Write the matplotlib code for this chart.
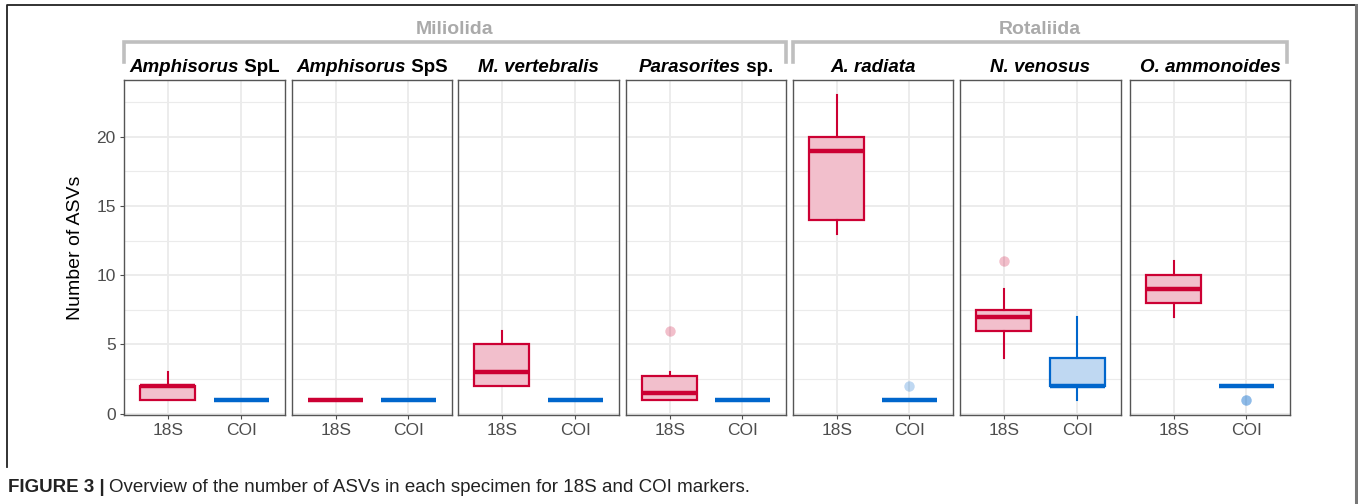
import matplotlib
matplotlib.use("Agg")
import matplotlib.pyplot as plt
from matplotlib.lines import Line2D

plt.rcParams['font.family'] = ['Liberation Sans', 'DejaVu Sans']

########################################################################################################################
## data (boxplot statistics per specimen)
########################################################################################################################
species_it = ["Amphisorus", "Amphisorus", "M. vertebralis", "Parasorites", "A. radiata", "N. venosus", "O. ammonoides"]
species_rest = [" SpL", " SpS", "", " sp.", "", "", ""]
orders = ["Miliolida", "Rotaliida"]
markers = ["18S", "COI"]

q1_18s = [1, 1, 2, 1, 14, 6, 8]
med_18s = [2, 1, 3, 1.5, 19, 7, 9]
q3_18s = [2, 1, 5, 2.75, 20, 7.5, 10]
lo_18s = [1, 1, 2, 1, 13, 4, 7]
hi_18s = [3, 1, 6, 3, 23, 9, 11]
out_18s = [[], [], [], [6], [], [11], []]

q1_coi = [1, 1, 1, 1, 1, 2, 2]
med_coi = [1, 1, 1, 1, 1, 2, 2]
q3_coi = [1, 1, 1, 1, 1, 4, 2]
lo_coi = [1, 1, 1, 1, 1, 1, 2]
hi_coi = [1, 1, 1, 1, 1, 7, 2]
out_coi = [[], [], [], [], [2], [], [1, 1]]

########################################################################################################################
## layout (pixels)
########################################################################################################################
W, H = 1358, 504
panel_x = [(124, 285), (292, 452), (458, 619), (626, 786), (793, 953), (960, 1121), (1130, 1290)]
panel_top, panel_bot = 80, 415

red, red_fill = '#CC0033', '#F2BFCC'
blue, blue_fill = '#0066CC', '#BFD8F2'
grid_c = '#EBEBEB'

fig = plt.figure(figsize=(W / 100, H / 100), dpi=100)


def fx(px):
    return px / W


def fy(py):
    return 1 - py / H


def stats(i, q1, med, q3, lo, hi, out):
    return dict(q1=q1[i], med=med[i], q3=q3[i], whislo=lo[i], whishi=hi[i], fliers=out[i])


axes = []
for i, (x0, x1) in enumerate(panel_x):
    ax = fig.add_axes([fx(x0), fy(panel_bot), fx(x1) - fx(x0), fy(panel_top) - fy(panel_bot)])
    axes.append(ax)
    for col, fill, pos, s in [
        (red, red_fill, 1, stats(i, q1_18s, med_18s, q3_18s, lo_18s, hi_18s, out_18s)),
        (blue, blue_fill, 2, stats(i, q1_coi, med_coi, q3_coi, lo_coi, hi_coi, out_coi)),
    ]:
        ax.bxp([s], positions=[pos], widths=0.75, patch_artist=True, showcaps=False,
               boxprops=dict(facecolor=fill, edgecolor=col, linewidth=1.6),
               medianprops=dict(color=col, linewidth=3.2, solid_capstyle='butt'),
               whiskerprops=dict(color=col, linewidth=1.5),
               flierprops=dict(marker='o', markerfacecolor=col, markeredgecolor='none',
                               markersize=7.5, alpha=0.25),
               zorder=3)
    ax.set_xlim(0.4, 2.6)
    ax.set_ylim(-0.1, 24.1)
    ax.set_xticks([1, 2])
    ax.set_xticklabels(markers)
    ax.set_yticks([0, 5, 10, 15, 20])
    ax.set_yticks([2.5, 7.5, 12.5, 17.5, 22.5], minor=True)
    ax.grid(True, which='major', color=grid_c, lw=1.3, zorder=0)
    ax.grid(True, which='minor', axis='y', color=grid_c, lw=0.8, zorder=0)
    ax.set_axisbelow(True)
    ax.tick_params(axis='both', which='major', colors='#4D4D4D', labelsize=12.5, length=3, width=0.8,
                   labelcolor='#4D4D4D', pad=3)
    ax.tick_params(axis='y', which='minor', length=0)
    for sp in ax.spines.values():
        sp.set_color('#555555')
        sp.set_linewidth(1.0)
    if i > 0:
        ax.tick_params(axis='y', which='both', left=False, labelleft=False)

axes[0].set_ylabel('Number of ASVs', fontsize=14, labelpad=9)

########################################################################################################################
## strip labels (italic genus + plain suffix, all bold)
########################################################################################################################
fig.canvas.draw()
rend = fig.canvas.get_renderer()
for i, (x0, x1) in enumerate(panel_x):
    t1 = fig.text(0, fy(68), species_it[i], fontsize=13.5, fontweight='bold', style='italic',
                  ha='left', va='center')
    t2 = fig.text(0, fy(68), species_rest[i], fontsize=13.5, fontweight='bold', ha='left', va='center')
    w1 = t1.get_window_extent(rend).width if species_it[i] else 0
    w2 = t2.get_window_extent(rend).width if species_rest[i] else 0
    start = (x0 + x1) / 2 - (w1 + w2) / 2
    t1.set_x(fx(start))
    t2.set_x(fx(start + w1))

########################################################################################################################
## order brackets
########################################################################################################################
br_c = '#BFBFBF'
bracket_x = [(124, 786), (793, 1287)]
for name, (bx0, bx1) in zip(orders, bracket_x):
    fig.add_artist(Line2D([fx(bx0), fx(bx0), fx(bx1), fx(bx1)], [fy(62), fy(42), fy(42), fy(62)],
                          color=br_c, lw=2.6, solid_joinstyle='miter'))
    fig.text(fx((bx0 + bx1) / 2), fy(30), name, color='#AAAAAA', fontsize=14, fontweight='bold',
             ha='center', va='center')

########################################################################################################################
## figure frame and caption
########################################################################################################################
fig.add_artist(Line2D([fx(7), fx(7), fx(1355)], [fy(467), fy(5), fy(5)], color='#222222', lw=1.3))
fig.add_artist(Line2D([fx(1355.5), fx(1355.5)], [fy(5), fy(504)], color='#777777', lw=2.2))

c1 = fig.text(fx(8), fy(488), 'FIGURE 3 |', fontsize=13.5, fontweight='bold', color='#222222',
              ha='left', va='center')
w = c1.get_window_extent(rend).width
fig.text(fx(8 + w + 4), fy(488), 'Overview of the number of ASVs in each specimen for 18S and COI markers.',
         fontsize=13.5, color='#222222', ha='left', va='center')

fig.savefig('out.png', dpi=100)
